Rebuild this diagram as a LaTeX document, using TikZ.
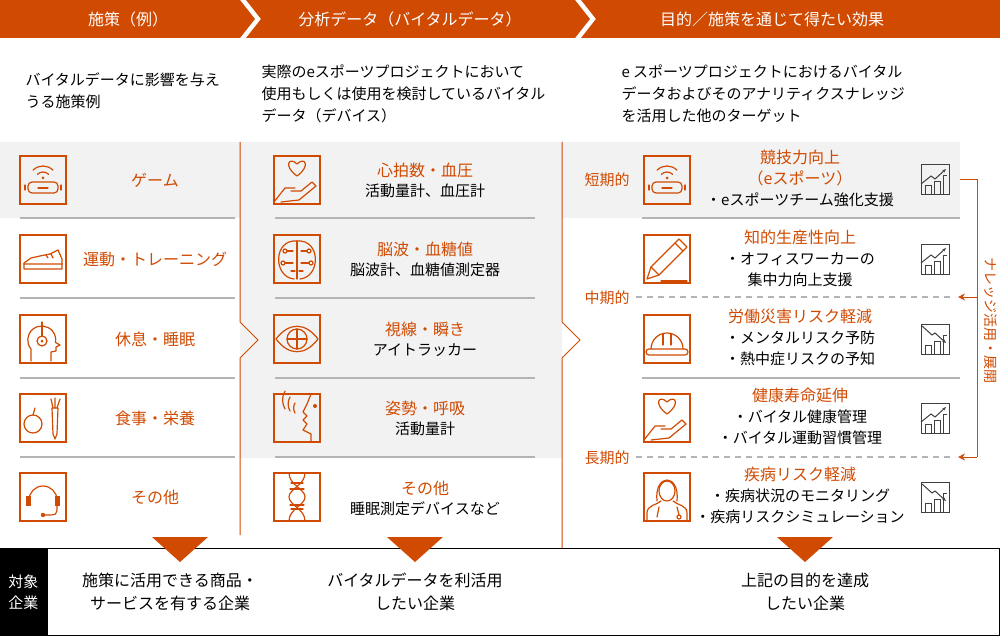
\documentclass[tikz,border=0pt]{standalone}
\usepackage{fontspec}
\setmainfont{Noto Sans CJK JP}
\usetikzlibrary{arrows.meta}
\definecolor{org}{HTML}{D04A02}
\definecolor{bg}{HTML}{F2F2F2}
\definecolor{sep}{HTML}{B4B4B4}
\begin{document}
\begin{tikzpicture}[x=1pt,y=-1pt,
  ibox/.style={draw=org,line width=1.3pt,minimum width=46pt,minimum height=48pt,inner sep=0},
  ic/.style={draw=org,line width=1.2pt,line cap=round,line join=round},
  cbox/.style={draw=black!75,line width=1pt,minimum width=28pt,minimum height=30pt,inner sep=0},
  lab/.style={text=org,font=\fontsize{16}{20}\selectfont,align=center},
  sub/.style={text=black,font=\fontsize{15}{20}\selectfont,align=center},
  col3/.style={font=\fontsize{15}{21}\selectfont,align=center},
  desc/.style={font=\fontsize{15}{22}\selectfont,align=left,anchor=west},
  hdr/.style={text=white,font=\fontsize{16}{18}\selectfont},
  sepl/.style={draw=sep,line width=1.2pt},
  tri/.style={fill=org}]
\useasboundingbox (0,0) rectangle (1000,636);
% header
\fill[org] (0,0)--(240,0)--(255,19)--(240,38)--(0,38)--cycle;
\fill[org] (246,0)--(575,0)--(590,19)--(575,38)--(246,38)--(261,19)--cycle;
\fill[org] (581,0)--(1000,0)--(1000,38)--(581,38)--(596,19)--cycle;
\node[hdr] (h1) at (128,19) {施策（例）};
\node[hdr] (h2) at (410,19) {分析データ（バイタルデータ）};
\node[hdr] (h3) at (772,19) {目的／施策を通じて得たい効果};
% descriptions
\node[desc] (d1) at (22,91) {バイタルデータに影響を与え\\うる施策例};
\node[desc] (d2) at (258,94) {実際のeスポーツプロジェクトにおいて\\使用もしくは使用を検討しているバイタル\\データ（デバイス）};
\node[desc] (d3) at (618,94) {e スポーツプロジェクトにおけるバイタル\\データおよびそのアナリティクスナレッジ\\を活用した他のターゲット};
% backgrounds
\fill[bg] (0,142) rectangle (240,218);
\fill[bg] (240,142) rectangle (562,458);
\fill[bg] (562,142) rectangle (960,218);
% vertical orange lines with chevrons
\draw[org,line width=1pt] (240,142)--(240,322)--(258,340)--(240,358)--(240,535);
\draw[org,line width=1pt] (562,142)--(562,322)--(580,340)--(562,358)--(562,548);
% separators
\foreach \y in {218,298,378,457}{
  \draw[sepl] (20,\y)--(235,\y);
  \draw[sepl] (275,\y)--(535,\y);}
\draw[sepl] (642,218)--(960,218);
\draw[sepl] (642,378)--(960,378);
\draw[sep,line width=1.2pt,dash pattern=on 6pt off 5pt] (636,297)--(955,297);
\draw[sep,line width=1.2pt,dash pattern=on 6pt off 5pt] (636,457)--(955,457);
% ---------- column 1 ----------
\node[ibox] (a1) at (43,180) {};
\node[ibox] (a2) at (43,259) {};
\node[ibox] (a3) at (43,339) {};
\node[ibox] (a4) at (43,418) {};
\node[ibox] (a5) at (43,497) {};
\node[lab] (la1) at (155,180) {ゲーム};
\node[lab] (la2) at (155,259) {運動・トレーニング};
\node[lab] (la3) at (155,339) {休息・睡眠};
\node[lab] (la4) at (155,418) {食事・栄養};
\node[lab] (la5) at (155,497) {その他};
\def\vr{
 \draw[ic,rounded corners=4pt] (-15,2) rectangle (15,13);
 \draw[ic] (-18,5)--(-18,10) (18,5)--(18,10) (-5,8)--(5,8);
 \draw[ic] (-135:14) arc[start angle=-135,end angle=-45,radius=14];
 \draw[ic] (-135:8) arc[start angle=-135,end angle=-45,radius=8];
 \fill[org] (0,-2) circle (1.5);}
\begin{scope}[shift={(a1.center)}] \vr \end{scope}
% shoe
\begin{scope}[shift={(a2.center)}]
 \draw[ic] (-19,10)--(19,10)--(19,0)--(15,-9)--(7,-5)--(-3,-3)--(-12,-1)--(-19,4)--cycle;
 \draw[ic] (-19,5)--(19,5) (8,-5)--(10,-1) (3,-4)--(5,-1);
\end{scope}
% head with headphones
\begin{scope}[shift={(a3.center)}]
 \draw[ic] (-12,22)--(-12,10) arc[start angle=-220,end angle=10,radius=14] --(17,6)--(13,8)--(13,12)--(8,13)--(8,22);
 \draw[ic] (-1,2) circle (5); \fill[org] (-1,2) circle (1.5);
 \draw[ic] (-1,-3)--(-1,-17);
\end{scope}
% apple carrot
\begin{scope}[shift={(a4.center)}]
 \draw[ic] (-10,6) circle (9);
 \draw[ic] (-10,-3)--(-8,-10);
 \draw[ic] (9,-10)--(15,-10)--(14,16)--(12,21)--(10,16)--cycle;
 \draw[ic] (10,-10)--(8,-19) (12,-10)--(12,-20) (14,-10)--(17,-19);
\end{scope}
% headset
\begin{scope}[shift={(a5.center)}]
 \draw[ic] (-14,3) arc[start angle=-180,end angle=0,radius=14];
 \fill[org] (-17,-1) rectangle (-12,9); \fill[org] (12,-1) rectangle (17,9);
 \draw[ic] (14,9) .. controls (14,18) .. (2,18);
 \fill[org] (0,18) circle (2.2);
\end{scope}
% ---------- column 2 ----------
\node[ibox] (b1) at (297,180) {};
\node[ibox] (b2) at (297,259) {};
\node[ibox] (b3) at (297,339) {};
\node[ibox] (b4) at (297,418) {};
\node[ibox] (b5) at (297,497) {};
\node[lab] (lb1) at (425,170) {心拍数・血圧};
\node[sub] (sb1) at (425,191) {活動量計、血圧計};
\node[lab] (lb2) at (425,249) {脳波・血糖値};
\node[sub] (sb2) at (425,270) {脳波計、血糖値測定器};
\node[lab] (lb3) at (425,329) {視線・瞬き};
\node[sub] (sb3) at (425,350) {アイトラッカー};
\node[lab] (lb4) at (425,408) {姿勢・呼吸};
\node[sub] (sb4) at (425,429) {活動量計};
\node[lab] (lb5) at (425,488) {その他};
\node[sub] (sb5) at (425,509) {睡眠測定デバイスなど};
\def\heartHand{
 \draw[ic] (0,-4) .. controls (-14,-14) and (-8,-24) .. (0,-16) .. controls (8,-24) and (14,-14) .. (0,-4);
 \draw[ic] (-23,22)--(-12,8)--(-2,8) (-16,22)--(2,20)--(19,6)--(15,2)--(4,11)--(-6,11);}
\begin{scope}[shift={(b1.center)}] \heartHand \end{scope}
% brain
\begin{scope}[shift={(b2.center)}]
 \draw[ic] (0,-18) .. controls (-24,-20) and (-24,18) .. (-3,20) (0,-18) .. controls (24,-20) and (24,18) .. (3,20);
 \draw[ic] (0,-18)--(0,20) (-10,-8)--(-4,-8) (10,-8)--(4,-8) (-12,4)--(-4,4) (12,4)--(4,4) (-6,12)--(-2,12) (6,12)--(2,12);
 \draw[ic] (-12,-8) circle (2) (12,-8) circle (2) (-14,4) circle (2) (14,4) circle (2);
\end{scope}
% eye
\begin{scope}[shift={(b3.center)}]
 \draw[ic] (-21,0) .. controls (-8,-17) and (8,-17) .. (21,0) .. controls (8,17) and (-8,17) .. (-21,0);
 \draw[ic] (0,0) circle (10); \draw[ic] (-10,0)--(10,0) (0,-10)--(0,10);
\end{scope}
% speaking face
\begin{scope}[shift={(b4.center)}]
 \draw[ic] (14,-24)--(10,-14)--(6,-6)--(10,-2)--(6,2)--(10,6)--(6,12)--(14,16)--(14,24);
 \fill[org] (18,-12) circle (2);
 \draw[ic] (-2,-5) arc[start angle=150,end angle=210,radius=10];
 \draw[ic] (-7,-7) arc[start angle=150,end angle=210,radius=14];
 \draw[ic] (-12,-9) arc[start angle=150,end angle=210,radius=18];
\end{scope}
% DNA
\begin{scope}[shift={(b5.center)}]
 \draw[ic] (-8,-24) .. controls (-8,-12) and (8,-8) .. (8,0) .. controls (8,8) and (-8,12) .. (-8,24);
 \draw[ic] (8,-24) .. controls (8,-12) and (-8,-8) .. (-8,0) .. controls (-8,8) and (8,12) .. (8,24);
 \draw[ic] (-6,-14)--(6,-14) (-7,-8)--(7,-8) (-6,12)--(6,12) (-7,8)--(7,8);
\end{scope}
% ---------- column 3 ----------
\node[lab,font=\fontsize{15}{18}\selectfont] (t1) at (607,180) {短期的};
\node[lab,font=\fontsize{15}{18}\selectfont] (t2) at (607,298) {中期的};
\node[lab,font=\fontsize{15}{18}\selectfont] (t3) at (607,458) {長期的};
\node[ibox] (c1) at (667,180) {};
\node[ibox] (c2) at (667,259) {};
\node[ibox] (c3) at (667,339) {};
\node[ibox] (c4) at (667,418) {};
\node[ibox] (c5) at (667,497) {};
\node[col3] (lc1) at (800,178) {\textcolor{org}{\fontsize{16}{21}\selectfont 競技力向上}\\\textcolor{org}{\fontsize{16}{21}\selectfont （eスポーツ）}\\・eスポーツチーム強化支援};
\node[col3] (lc2) at (800,258) {\textcolor{org}{\fontsize{16}{21}\selectfont 知的生産性向上}\\・オフィスワーカーの\\集中力向上支援};
\node[col3] (lc3) at (800,337) {\textcolor{org}{\fontsize{16}{21}\selectfont 労働災害リスク軽減}\\・メンタルリスク予防\\・熱中症リスクの予知};
\node[col3] (lc4) at (800,416) {\textcolor{org}{\fontsize{16}{21}\selectfont 健康寿命延伸}\\・バイタル健康管理\\・バイタル運動習慣管理};
\node[col3] (lc5) at (800,495) {\textcolor{org}{\fontsize{16}{21}\selectfont 疾病リスク軽減}\\・疾病状況のモニタリング\\・疾病リスクシミュレーション};
\begin{scope}[shift={(c1.center)}] \vr \end{scope}
% pencil
\begin{scope}[shift={(c2.center)}]
 \draw[ic] (-20,20)--(-16,8)--(12,-20)--(20,-12)--(-8,16)--cycle;
 \draw[ic] (-16,8)--(-8,16) (8,-16)--(16,-8);
 \draw[ic] (-6,22)--(20,22);
\end{scope}
% helmet
\begin{scope}[shift={(c3.center)}]
 \draw[ic] (-16,10) arc[start angle=-180,end angle=0,radius=16];
 \draw[ic,rounded corners=3pt] (-21,10) rectangle (21,16);
 \draw[ic] (-4,-5)--(-4,6) (4,-5)--(4,6);
\end{scope}
\begin{scope}[shift={(c4.center)}] \heartHand \end{scope}
% woman
\begin{scope}[shift={(c5.center)}]
 \draw[ic] (0,-6) ellipse (8 and 10);
 \draw[ic] (-10,4) .. controls (-13,-24) and (13,-24) .. (10,4);
 \draw[ic] (-20,24)--(-20,16) .. controls (-20,8) and (-10,8) .. (-6,4) (20,24)--(20,16) .. controls (20,8) and (10,8) .. (6,4);
 \draw[ic] (-8,10)--(-10,20) (10,10)--(12,18); \draw[ic] (12,20) circle (2);
\end{scope}
% chart icons
\foreach \n/\y/\d in {k1/180/1,k2/259/1,k3/339/0,k4/418/1,k5/497/0}{
 \node[cbox] (\n) at (935,\y) {};
 \begin{scope}[shift={(\n.center)}]
  \draw[black!75,line width=1pt] (-10,15)--(-10,6)--(-4,6)--(-4,15) (-1,15)--(-1,2)--(5,2)--(5,15) (8,15)--(8,-4)--(12,-4);
  \ifnum\d=1
   \draw[black!75,line width=1pt,-{Stealth[length=4pt]}] (-14,4)--(-4,-4)--(0,-1)--(11,-11);
  \else
   \draw[black!75,line width=1pt,-{Stealth[length=4pt]}] (-13,-13)--(-3,-4)--(0,-6)--(11,4);
  \fi
 \end{scope}}
% knowledge bracket
\coordinate (r0) at (960,180);
\coordinate (r1) at (977,180);
\coordinate (r2) at (977,297);
\coordinate (r3) at (977,457);
\coordinate (e2) at (958,297);
\coordinate (e3) at (958,457);
\draw[org,line width=1pt] (r0)--(r1)--(r3);
\draw[org,line width=1pt,-{Stealth[length=7pt,width=7pt]}] (r2)--(e2);
\draw[org,line width=1pt,-{Stealth[length=7pt,width=7pt]}] (r3)--(e3);
\node[text=org,font=\fontsize{14}{15}\selectfont,rotate=-90] (kn) at (991,320) {ナレッジ活用・展開};
% bottom
\fill[black] (0,548) rectangle (47,636);
\draw[black,line width=1pt] (47,548.5) rectangle (999.5,635.5);
\node[text=white,font=\fontsize{15}{21}\selectfont,align=center] (tg) at (23.5,592) {対象\\企業};
\node[font=\fontsize{16}{23}\selectfont,align=center] (g1) at (170,592) {施策に活用できる商品・\\サービスを有する企業};
\node[font=\fontsize{16}{23}\selectfont,align=center] (g2) at (415,592) {バイタルデータを利活用\\したい企業};
\node[font=\fontsize{16}{23}\selectfont,align=center] (g3) at (805,592) {上記の目的を達成\\したい企業};
\fill[tri] (152,537)--(208,537)--(180,562)--cycle;
\fill[tri] (387,537)--(443,537)--(415,562)--cycle;
\fill[tri] (777,537)--(833,537)--(805,562)--cycle;
\end{tikzpicture}
\end{document}
